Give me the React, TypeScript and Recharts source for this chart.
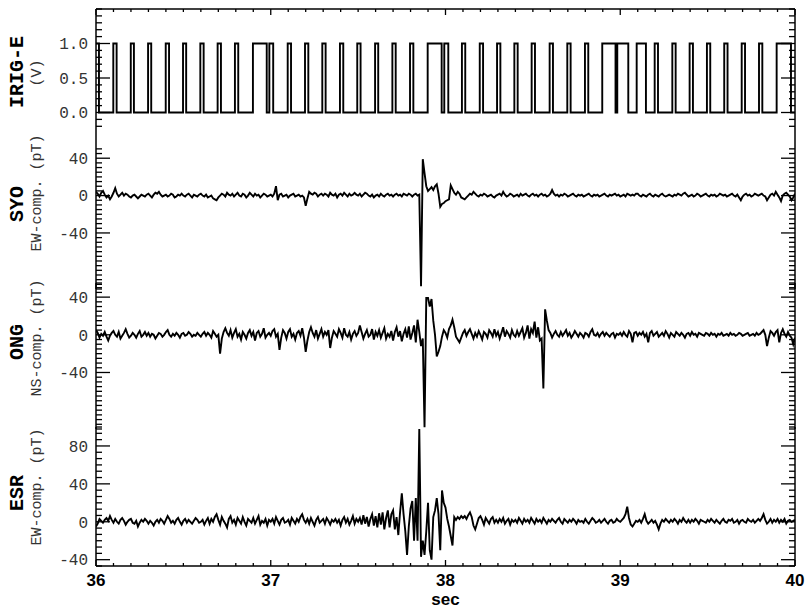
import React from 'react';
import { LineChart, Line, XAxis, YAxis } from 'recharts';

const W = 811;
const H = 613;

// magnetometer traces are sampled every DT seconds starting at T0
const T0 = 36;
const DT = 0.01;

// IRIG-E pulse edges (sec)
const irigRise = [
  36.0, 36.099, 36.199, 36.298, 36.399, 36.498, 36.597, 36.696, 36.795, 36.898,
  36.992, 37.097, 37.196, 37.295, 37.396, 37.495, 37.597, 37.696, 37.797, 37.898,
  37.993, 38.094, 38.196, 38.295, 38.394, 38.493, 38.596, 38.697, 38.798, 38.897,
  38.983, 39.094, 39.197, 39.298, 39.397, 39.496, 39.595, 39.695, 39.794, 39.895,
];
const irigFall = [
  36.017, 36.118, 36.217, 36.316, 36.418, 36.516, 36.616, 36.715, 36.814, 36.977,
  37.014, 37.116, 37.215, 37.314, 37.415, 37.514, 37.615, 37.715, 37.816, 37.978,
  38.016, 38.113, 38.215, 38.314, 38.413, 38.512, 38.615, 38.716, 38.817, 38.973,
  39.046, 39.147, 39.216, 39.317, 39.416, 39.515, 39.614, 39.714, 39.813, 39.977,
];

// SYO EW-comp (pT), one row per 0.1 s
const syo = [
  4, 2, -1, 3, 5, 1, -2, 0, -4, -1,
  3, 8, 2, -1, 1, 3, 0, 2, 1, -1,
  -2, 0, 1, -1, -3, -1, 1, 0, -1, 1,
  2, 0, -2, 1, 3, 2, 4, 1, -1, 0,
  1, -1, 0, 2, 1, -2, -1, 1, 0, 2,
  0, -1, 1, 2, 0, -2, 1, 0, -1, 1,
  2, 0, -1, 1, -2, -1, 0, -3, -4, -5,
  -2, 0, 2, 1, -1, 3, 1, 0, 2, -1,
  1, 3, 0, -1, 2, 1, -2, 0, 3, 1,
  -1, 2, 0, 1, -2, 0, 2, 1, -1, 0,
  1, -1, 2, 10, -5, 1, 2, -1, 0, 1,
  -2, 0, 1, 2, -1, 0, 1, -1, 0, -2,
  -11, -3, 4, 2, 1, 3, 2, -1, 1, 2,
  0, 2, 1, -1, 3, 1, 0, 2, -2, 1,
  2, 0, 3, 1, -1, 2, 0, 1, 3, 1,
  0, 2, -1, 1, 3, 2, 0, -1, 1, -2,
  0, 1, -1, 2, 0, -1, 1, 2, 0, 1,
  -1, 1, 2, 0, 1, -1, 2, 1, 0, 2,
  1, -1, 1, 2, 0, 1, -97, 39, 24, 10,
  5, 7, 9, 6, 10, 12, 2, -12, -9, -8,
  -6, -5, -4, 11, 7, 3, 1, 4, 2, -2,
  -3, -4, -2, 0, 2, 1, 4, 2, 0, -1,
  1, 0, 2, 1, -1, 0, 1, -1, -2, 0,
  1, 2, 0, 4, 1, -1, 0, 2, 1, -1,
  0, 1, -1, 2, 0, 1, 2, 0, -1, 1,
  2, 0, 1, -1, 1, 2, 0, 1, -1, 0,
  2, 6, 2, 0, 1, -1, 1, 0, 2, 1,
  -1, 0, 1, 2, 0, -1, 1, 0, 1, -1,
  0, 1, 2, 0, -1, 1, 0, 1, -1, 0,
  1, 2, 0, -1, 1, 0, 1, 2, 0, 1,
  -1, 0, 1, -1, 2, 1, 0, 1, 0, 2,
  2, 0, -1, 1, 0, -1, 1, 2, 0, -1,
  1, 0, -1, 1, 2, 0, -1, 0, 1, 0,
  -1, 1, 0, 2, 1, 0, 2, 3, 1, -1,
  0, 1, -1, 0, 2, 1, -1, 0, 1, 2,
  0, -1, 1, 0, 1, -1, 0, 2, 1, 0,
  1, -1, 0, 1, 2, 0, -1, 1, -2, -5,
  -1, 1, 2, 0, 1, -1, 0, 2, 1, 0,
  1, 2, 0, -1, -5, -2, 1, 2, 0, 4,
  1, -2, -6, 0, 2, 3, 1, -1, -5, -2,
  2,
];

// ONG NS-comp (pT), one row per 0.1 s
const ong = [
  5, 2, -3, 1, -1, 3, -2, -6, -1, 2,
  4, 0, -2, 3, -4, -1, 2, 6, 1, -3,
  -1, 2, 0, -3, 1, 4, -2, 0, 3, -1,
  2, -2, 1, 0, -4, -1, 2, 1, -2, 0,
  3, 5, 0, -2, 1, -1, 2, 0, -3, 1,
  2, -1, 0, 3, 1, -2, 0, -1, 2, 0,
  -2, 1, 3, -1, 2, 0, -3, 4, 1, -2,
  0, -20, -4, 3, 7, 2, -1, 5, -3, 2,
  6, -2, 1, -5, 3, 0, -4, 2, 5, -1,
  3, -6, 2, 4, -2, 1, 7, -3, 0, 2,
  -1, 4, 6, -2, 1, -16, -3, 5, 2, -4,
  3, 6, -2, 1, -5, 2, 4, -1, 7, -3,
  -18, -6, 3, 8, 2, -2, 5, -4, 1, 6,
  -2, 3, 0, 5, -14, -3, 4, 1, -2, 6,
  2, -3, 7, 0, -2, 3, -5, 1, 4, -1,
  2, 10, 3, -4, 1, 5, -2, 0, 6, -5,
  3, -1, 5, -3, 2, 7, -4, 1, -2, 4,
  -6, 3, 8, -2, 4, -7, 1, 6, -3, 9,
  -5, 2, 10, -8, 16, 3, -12, -4, -98, 39,
  39, 30, 38, 15, 0, -23, -18, -12, -2, 5,
  2, -3, 6, 10, 16, 8, -2, -5, -8, -3,
  2, 5, -1, 3, 6, 1, -4, 2, -2, 4,
  0, -5, 3, 1, -3, 5, 2, -2, 6, -1,
  3, -4, 2, 8, -2, 4, 1, -3, 5, 0,
  -2, 4, -1, 3, 7, -3, 2, 10, -4, 6,
  2, 14, -3, 8, -6, -4, -57, 27, 15, 5,
  2, -3, 1, 4, 0, -2, 3, -1, 2, 5,
  -1, 2, -3, 0, 4, 1, -2, 2, 0, -3,
  2, 1, -2, 3, 6, 0, -1, 2, -2, 1,
  3, -1, 2, 0, -2, 1, 2, -3, 1, 0,
  2, -1, 3, 0, -2, 4, 1, -8, 2, 3,
  -1, 2, 0, 3, -2, 1, -8, 2, 4, -1,
  1, 3, -2, 0, 2, -1, 4, 1, -3, 2,
  0, -2, 3, 1, -1, 2, 0, -3, 1, 2,
  -1, 3, 0, 1, -2, 2, 1, 0, -1, 2,
  1, -1, 2, 0, 1, -2, 1, 0, 2, -1,
  0, 1, -1, 2, 0, 1, -1, 0, 2, 1,
  -1, 0, 1, 2, -1, 0, 1, -1, 2, 0,
  1, 3, 5, 0, -12, -3, 4, 2, -1, 3,
  5, -8, 2, 6, 1, -2, 3, -1, -3, -10,
  -3,
];

// ESR EW-comp (pT), one row per 0.1 s
const esr = [
  -5, -2, 3, 1, -1, 2, 4, 1, 6, 2,
  -1, 3, 0, -2, 2, 4, 1, -3, 0, 2,
  3, -1, -2, 1, -5, -1, 2, 0, 3, 1,
  -2, 1, -1, -4, 0, 2, -1, 3, 1, -2,
  2, 6, 3, -1, 1, -2, 2, 4, 0, -3,
  1, 3, -1, 2, 0, -2, 1, 4, 2, -1,
  0, 2, -3, 1, 4, -2, 3, 0, 5, 8,
  2, -3, 5, 1, -2, -6, 3, 6, -1, 2,
  -3, 4, 1, -2, 5, 0, -4, 3, 1, -1,
  4, -2, 2, 6, -3, 1, -1, 3, -4, 2,
  0, 3, -2, 5, 1, -3, 2, 4, -1, 0,
  2, -3, 4, 1, -2, 3, 0, 5, 8, 2,
  -1, 3, -2, 4, 0, -4, 2, 5, -1, 1,
  3, -2, 4, 1, -3, 2, 0, 3, -1, 2,
  -4, 2, 5, -1, 3, -3, 1, 6, -2, 3,
  0, 4, -3, 7, -2, 5, -5, 3, 8, -4,
  6, -6, 9, -3, 10, -8, 4, 12, -6, 8,
  12, -8, 5, -14, 10, 30, 8, -10, -35, -5,
  14, 22, -20, 25, -20, 98, -37, -20, -35, -10,
  20, -30, -40, 5, 12, 25, 8, -30, 33, 20,
  15, 3, -5, -15, -25, 5, 2, 5, 3, 6,
  4, 6, 3, 7, 10, 5, -4, -8, -2, 4,
  6, 2, -3, 4, 1, -2, 3, 5, -1, 2,
  -1, 3, 0, 4, -2, 1, 3, -3, 2, 0,
  2, -1, 4, 1, -2, 3, 0, 2, -1, 4,
  1, -2, 3, 0, 2, -1, 4, 1, -2, 2,
  0, 3, 1, -1, 2, 4, 0, -2, 3, 1,
  -1, 2, 0, 3, 1, -2, 2, 0, 1, -1,
  3, 0, -2, 1, 4, 2, -1, 0, 2, -1,
  1, 3, 0, -2, 1, 2, -1, 0, 3, 1,
  0, 2, 4, 8, 16, 4, -3, -5, -2, 1,
  0, 2, -1, 3, 8, 1, -2, 0, 2, -1,
  1, -3, -8, -2, 2, 0, 3, 1, -1, 2,
  0, 3, 1, -2, 2, 0, 4, 1, -1, 2,
  -1, 2, 0, 3, 1, -2, 2, 1, 0, -1,
  2, 0, 3, 1, -1, 2, 0, -2, 1, 3,
  0, -1, 2, 1, 3, -1, 0, 2, -2, 1,
  2, 0, -1, 3, 1, 0, 2, -1, 1, 3,
  1, 4, 8, 2, -2, 0, 3, -1, 2, 0,
  3, -1, 2, 0, 3, -2, 1, 2, 0, 1,
  2,
];

const xMajor = [36, 37, 38, 39, 40];

const MONO = "'Liberation Mono', 'DejaVu Sans Mono', monospace";
const SANS = "'Liberation Sans', Arial, sans-serif";

const toSeries = (vals: number[]) => vals.map((v, i) => ({ t: T0 + i * DT, v }));

const irigData = [
  ...irigRise.flatMap((r, k) => [{ t: r, v: 1 }, { t: irigFall[k], v: 0 }]),
  { t: 40, v: 0 },
];

// 0.1 s minor ticks between the labelled seconds
const xTicks: number[] = [];
for (let k = 0; k <= 40; k++) xTicks.push(+(36 + k * 0.1).toFixed(1));

const range = (from: number, to: number, step: number) => {
  const out: number[] = [];
  const n = Math.round((to - from) / step);
  for (let k = 0; k <= n; k++) out.push(+(from + k * step).toFixed(4));
  return out;
};

const isIn = (list: number[], v: number) => list.some((m) => Math.abs(m - v) < 1e-6);

const YTick = ({ x, y, payload, side, majors, fmt }: any) => {
  const major = isIn(majors, payload.value);
  const d = side === 'left' ? 1 : -1;
  return (
    <g>
      <line x1={x} y1={y} x2={x + d * (major ? 14 : 6)} y2={y} stroke="#000" strokeWidth={1.3} />
      {side === 'left' && major && (
        <text x={x - 8} y={y} dy="0.36em" textAnchor="end" fontFamily={MONO} fontSize={16} fill="#333">
          {fmt(payload.value)}
        </text>
      )}
    </g>
  );
};

const XTick = ({ x, y, payload, side }: any) => {
  const major = isIn(xMajor, payload.value);
  const d = side === 'top' ? 1 : -1;
  return (
    <g>
      <line x1={x} y1={y} x2={x} y2={y + d * (major ? 6 : 3)} stroke="#000" strokeWidth={1.3} />
      {side === 'bottom' && major && (
        <text x={x} y={y + 20} textAnchor="middle" fontFamily={SANS} fontWeight="bold" fontSize={17} fill="#000">
          {Math.round(payload.value)}
        </text>
      )}
    </g>
  );
};

const PanelTitle = ({ name, unit, nameY, unitY }: any) => (
  <g>
    <text transform={`translate(23, ${nameY}) rotate(-90)`} textAnchor="middle" fontFamily={MONO} fontWeight="bold" fontSize={20} fill="#000">
      {name}
    </text>
    <text transform={`translate(41, ${unitY}) rotate(-90)`} textAnchor="middle" fontFamily={MONO} fontSize={15} fill="#333">
      {unit}
    </text>
  </g>
);

const SecLabel = ({ viewBox }: any) => (
  <text x={viewBox.x + viewBox.width / 2} y={viewBox.y + 39} textAnchor="middle" fontFamily={SANS} fontWeight="bold" fontSize={17} fill="#000">
    sec
  </text>
);

const Panel = ({ data, top, bottom, domain, yTicks, majors, fmt, step, xSide, title }: any) => {
  const xh = xSide === 'bottom' ? 40 : 1;
  return (
    <div style={{ position: 'absolute', left: 0, top: 0 }}>
      <LineChart
        width={W}
        height={H}
        data={data}
        margin={{
          top: xSide === 'top' ? top - xh : top,
          bottom: xSide === 'bottom' ? H - bottom - xh : H - bottom,
          left: 56,
          right: 6,
        }}
      >
        <XAxis
          dataKey="t"
          type="number"
          domain={[36, 40]}
          allowDataOverflow
          hide={xSide === 'none'}
          orientation={xSide === 'top' ? 'top' : 'bottom'}
          height={xh}
          ticks={xTicks}
          interval={0}
          tickSize={0}
          tickMargin={0}
          tickLine={false}
          axisLine={{ stroke: '#000', strokeWidth: 1.5 }}
          tick={(p: any) => <XTick {...p} side={xSide} />}
          label={xSide === 'bottom' ? <SecLabel /> : undefined}
        />
        <YAxis
          yAxisId="L"
          type="number"
          domain={domain}
          allowDataOverflow
          width={40}
          ticks={yTicks}
          interval={0}
          tickSize={0}
          tickMargin={0}
          tickLine={false}
          axisLine={{ stroke: '#000', strokeWidth: 1.5 }}
          tick={(p: any) => <YTick {...p} side="left" majors={majors} fmt={fmt} />}
          label={<PanelTitle {...title} />}
        />
        <YAxis
          yAxisId="R"
          orientation="right"
          type="number"
          domain={domain}
          allowDataOverflow
          width={10}
          ticks={yTicks}
          interval={0}
          tickSize={0}
          tickMargin={0}
          tickLine={false}
          axisLine={{ stroke: '#000', strokeWidth: 1.5 }}
          tick={(p: any) => <YTick {...p} side="right" majors={majors} fmt={fmt} />}
        />
        <Line
          yAxisId="L"
          dataKey="v"
          type={step ? 'stepAfter' : 'linear'}
          stroke="#000"
          strokeWidth={1.9}
          strokeLinejoin="miter"
          dot={false}
          isAnimationActive={false}
        />
      </LineChart>
    </div>
  );
};

const fmt1 = (v: number) => v.toFixed(1);
const fmt0 = (v: number) => String(Math.round(v));

export default function App() {
  return (
    <div style={{ position: 'absolute', left: 0, top: 0, width: W, height: H, background: '#fff', overflow: 'hidden' }}>
      <Panel
        data={irigData}
        top={9}
        bottom={147}
        domain={[-0.5, 1.5]}
        yTicks={range(-0.2, 1.5, 0.1)}
        majors={[0, 0.5, 1]}
        fmt={fmt1}
        step
        xSide="top"
        title={{ name: 'IRIG-E', unit: '(V)', nameY: 72, unitY: 73 }}
      />
      <Panel
        data={toSeries(syo)}
        top={147}
        bottom={289}
        domain={[-100, 52]}
        yTicks={range(-100, 50, 5)}
        majors={[-40, 0, 40]}
        fmt={fmt0}
        xSide="none"
        title={{ name: 'SYO', unit: 'EW-comp. (pT)', nameY: 204, unitY: 193 }}
      />
      <Panel
        data={toSeries(ong)}
        top={283}
        bottom={429}
        domain={[-100, 55]}
        yTicks={range(-100, 55, 5)}
        majors={[-40, 0, 40]}
        fmt={fmt0}
        xSide="none"
        title={{ name: 'ONG', unit: 'NS-comp. (pT)', nameY: 342, unitY: 338 }}
      />
      <Panel
        data={toSeries(esr)}
        top={427}
        bottom={566}
        domain={[-140 / 3, 100]}
        yTicks={range(-140 / 3, 100, 20 / 3)}
        majors={[-40, 0, 40, 80]}
        fmt={fmt0}
        xSide="bottom"
        title={{ name: 'ESR', unit: 'EW-comp. (pT)', nameY: 493, unitY: 487 }}
      />
    </div>
  );
}
